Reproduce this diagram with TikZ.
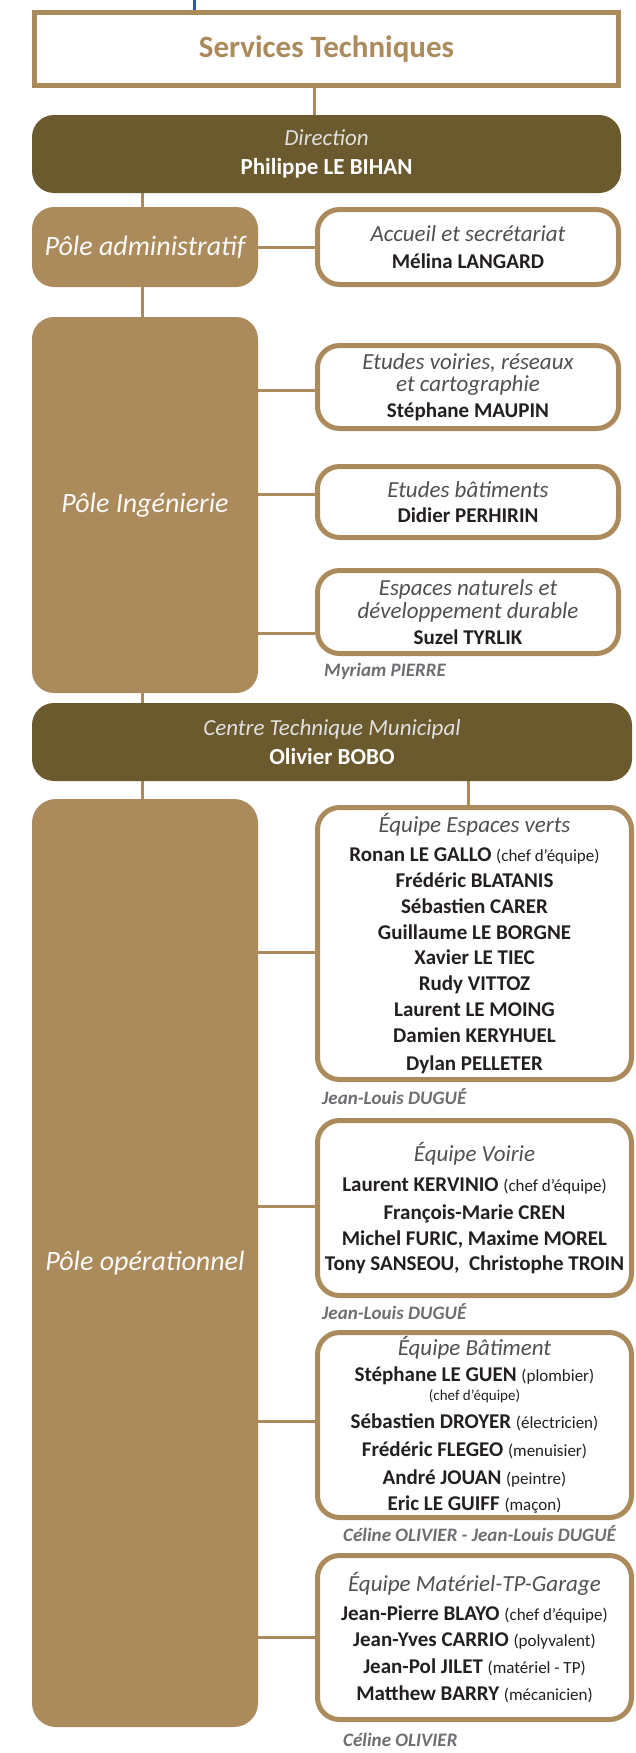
\documentclass[tikz,border=0pt]{standalone}
\usepackage{fontspec}
\setmainfont{Carlito}
\definecolor{tanc}{HTML}{AB8A5C}
\definecolor{darkc}{HTML}{6B5A2E}
\definecolor{inkc}{HTML}{231F20}
\definecolor{ttlc}{HTML}{505050}
\definecolor{lblc}{HTML}{6D6E71}
\definecolor{bluec}{HTML}{2B5AA6}
\newcommand\boxttl[1]{{\fontsize{23}{23}\selectfont\mdseries\itshape\color{ttlc}#1}}
\newcommand\darkttl[1]{{\mdseries\itshape\color{white!88!black}#1}}
\newcommand\boxnote[1]{{\fontsize{17}{17}\selectfont\mdseries #1}}
\newcommand\smallnote[1]{{\fontsize{15}{15}\selectfont\mdseries #1}}
\tikzset{
  conn/.style={draw=tanc, line width=3pt},
  stbox/.style={draw=tanc, line width=5pt, fill=white, text=tanc, inner sep=0pt,
    font=\fontsize{31}{31}\selectfont\bfseries},
  darkbox/.style={fill=darkc, rounded corners=22pt, text=white, align=center, inner sep=0pt,
    font=\fontsize{23}{28.5}\selectfont\bfseries},
  polebox/.style={fill=tanc, rounded corners=22pt, text=white!96!tanc, inner sep=0pt,
    font=\fontsize{28}{28}\selectfont\itshape},
  wbox/.style={draw=tanc, line width=5pt, fill=white, rounded corners=22pt, align=center,
    inner sep=0pt, text=inkc, font=\fontsize{21}{25.8}\selectfont\bfseries},
  lbl/.style={anchor=base west, inner sep=0pt, text=lblc,
    font=\fontsize{19}{19}\selectfont\bfseries\itshape}
}
\begin{document}
\begin{tikzpicture}[x=1pt,y=-1pt]
\useasboundingbox (0,0) rectangle (635,1753);
% top level
\node[stbox, minimum width=584pt, minimum height=73pt] (st) at (326.5,49) {Services Techniques};
\node[darkbox, minimum width=589pt, minimum height=78pt] (dir) at (326.5,154)
  {\darkttl{Direction}\\ Philippe LE BIHAN};
% poles
\node[polebox, minimum width=226pt, minimum height=80pt] (padm) at (145,247) {Pôle administratif};
\node[polebox, minimum width=226pt, minimum height=376pt] (ping) at (145,505) {Pôle Ingénierie};
\node[darkbox, minimum width=600pt, minimum height=78pt] (ctm) at (332,742)
  {\darkttl{Centre Technique Municipal}\\ Olivier BOBO};
\node[polebox, minimum width=226pt, minimum height=928pt, rounded corners=24pt] (pop) at (145,1263) {Pôle opérationnel};
% white boxes
\node[wbox, minimum width=301pt, minimum height=75pt] (acc) at (468,247)
  {\boxttl{Accueil et secrétariat}\\[1pt] Mélina LANGARD};
\node[wbox, minimum width=301pt, minimum height=83pt] (voi) at (468,387)
  {\boxttl{Etudes voiries, réseaux}\\[-3pt] \boxttl{et cartographie}\\[0pt] Stéphane MAUPIN};
\node[wbox, minimum width=301pt, minimum height=71pt] (bat) at (468,502)
  {\boxttl{Etudes bâtiments}\\[-1pt] Didier PERHIRIN};
\node[wbox, minimum width=301pt, minimum height=83pt] (nat) at (468,612)
  {\boxttl{Espaces naturels et}\\[-3pt] \boxttl{développement durable}\\[0pt] Suzel TYRLIK};
\node[wbox, minimum width=314pt, minimum height=272pt] (ev) at (474.5,943.5)
  {\boxttl{Équipe Espaces verts}\\[3pt]
   Ronan LE GALLO \boxnote{(chef d’équipe)}\\
   Frédéric BLATANIS\\
   Sébastien CARER\\
   Guillaume LE BORGNE\\
   Xavier LE TIEC\\
   Rudy VITTOZ\\
   Laurent LE MOING\\
   Damien KERYHUEL\\[2pt]
   Dylan PELLETER};
\node[wbox, minimum width=314pt, minimum height=175pt] (voirie) at (474.5,1208)
  {\boxttl{Équipe Voirie}\\[4pt]
   Laurent KERVINIO \boxnote{(chef d’équipe)}\\[2pt]
   François-Marie CREN\\
   Michel FURIC, Maxime MOREL\\[-1pt]
   Tony SANSEOU,~ Christophe TROIN};
\node[wbox, minimum width=314pt, minimum height=185pt] (batim) at (474.5,1425)
  {\boxttl{Équipe Bâtiment}\\[0pt]
   Stéphane LE GUEN \boxnote{(plombier)}\\[-7pt]
   \smallnote{(chef d’équipe)}\\[2pt]
   Sébastien DROYER \boxnote{(électricien)}\\[3pt]
   Frédéric FLEGEO \boxnote{(menuisier)}\\[2pt]
   André JOUAN \boxnote{(peintre)}\\[0pt]
   Eric LE GUIFF \boxnote{(maçon)}};
\node[wbox, minimum width=314pt, minimum height=164pt] (mat) at (474.5,1637.5)
  {\boxttl{Équipe Matériel-TP-Garage}\\[3pt]
   Jean-Pierre BLAYO \boxnote{(chef d’équipe)}\\[0pt]
   Jean-Yves CARRIO \boxnote{(polyvalent)}\\[1pt]
   Jean-Pol JILET \boxnote{(matériel - TP)}\\[1pt]
   Matthew BARRY \boxnote{(mécanicien)}};
% labels
\node[lbl] (lmp) at (324,676) {Myriam PIERRE};
\node[lbl] (ljl1) at (322,1104) {Jean-Louis DUGUÉ};
\node[lbl] (ljl2) at (322,1319) {Jean-Louis DUGUÉ};
\node[lbl] (lco1) at (343,1541) {Céline OLIVIER - Jean-Louis DUGUÉ};
\node[lbl] (lco2) at (343,1746) {Céline OLIVIER};
% connectors
\coordinate (topc) at (194,0);
\draw[draw=bluec, line width=3pt] (topc) -- (topc |- st.north);
\draw[conn] ([xshift=-12.5pt]st.south) -- ([xshift=-12.5pt]st.south |- dir.north);
\draw[conn] ([xshift=-3pt]padm.north |- dir.south) -- ([xshift=-3pt]padm.north);
\draw[conn] (padm.east) -- (acc.west);
\draw[conn] ([xshift=-3pt]padm.south) -- ([xshift=-3pt]ping.north);
\draw[conn] ([yshift=-3pt]voi.west -| ping.east) -- ([yshift=-3pt]voi.west);
\draw[conn] ([yshift=8pt]bat.west -| ping.east) -- ([yshift=8pt]bat.west);
\draw[conn] ([yshift=-21pt]nat.west -| ping.east) -- ([yshift=-21pt]nat.west);
\draw[conn] ([xshift=-3pt]ping.south) -- ([xshift=-3pt]ping.south |- ctm.north);
\draw[conn] ([xshift=-3pt]pop.north |- ctm.south) -- ([xshift=-3pt]pop.north);
\draw[conn] ([xshift=-6.5pt]ev.north |- ctm.south) -- ([xshift=-6.5pt]ev.north);
\draw[conn] ([yshift=-8.5pt]ev.west -| pop.east) -- ([yshift=-8.5pt]ev.west);
\draw[conn] ([yshift=2pt]voirie.west -| pop.east) -- ([yshift=2pt]voirie.west);
\draw[conn] ([yshift=4pt]batim.west -| pop.east) -- ([yshift=4pt]batim.west);
\draw[conn] (mat.west -| pop.east) -- (mat.west);
\end{tikzpicture}
\end{document}
